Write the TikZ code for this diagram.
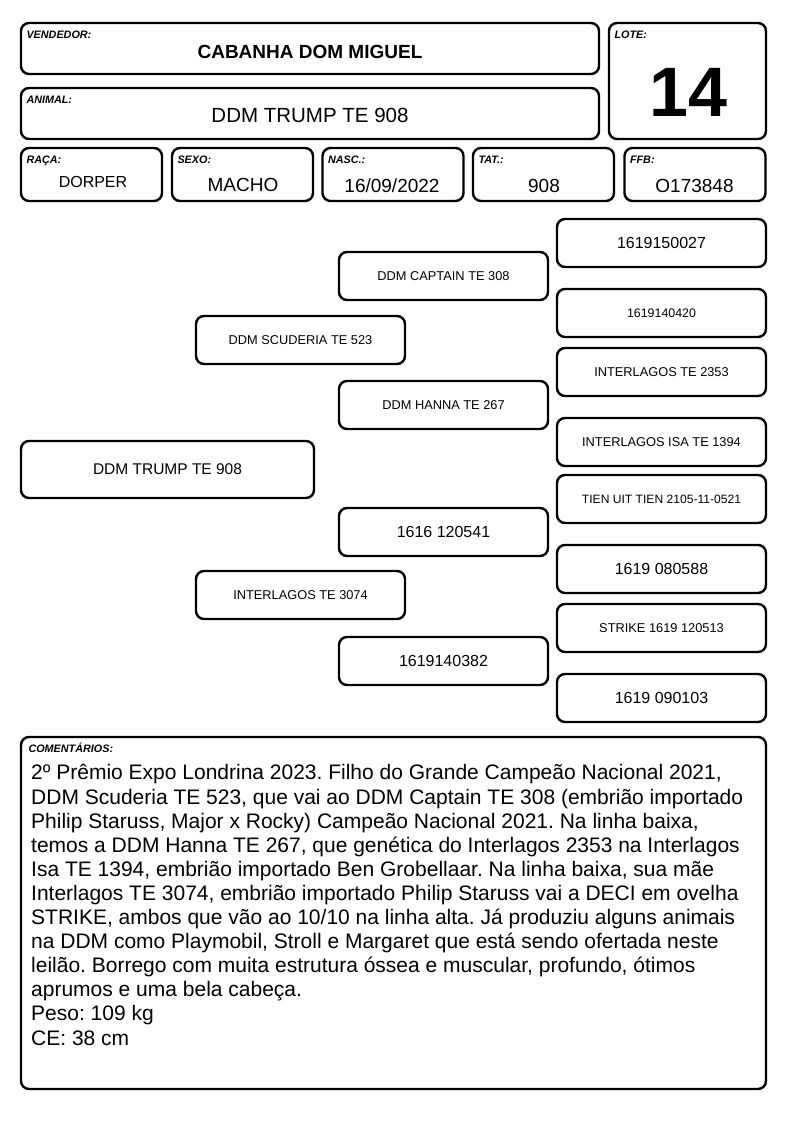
\documentclass[tikz,border=0pt]{standalone}
\usepackage{fontspec}
\setmainfont{Liberation Sans}
\usepackage{tikz}
\usetikzlibrary{calc}

\newcommand{\fsz}[1]{\fontsize{#1}{#1}\selectfont}
\frenchspacing

\begin{document}
\begin{tikzpicture}[x=1pt,y=-1pt,
    box/.style={draw,line width=2.4pt,rounded corners=8pt,inner sep=0pt},
    tag/.style={anchor=north west,inner sep=0pt,font=\fsz{10.8}\bfseries\itshape,text height=7.7pt,xshift=6.5pt,yshift=-8.5pt},
    field/.style={box,minimum width=141pt,minimum height=53pt},
    val/.style={anchor=base,inner sep=0pt,font=\fsz{19}},
    ped/.style={box,minimum width=209pt,minimum height=48pt,font=\fsz{12.8}},
    num/.style={ped,font=\fsz{16}}]
  \useasboundingbox (0,0) rectangle (794,1123);

  % header
  \node[box,minimum width=578pt,minimum height=51pt] (vend) at (310,48.5) {};
  \node[tag] (vendt) at (vend.north west) {VENDEDOR:};
  \node[val,font=\fsz{19}\bfseries] (vendv) at (310,59) {CABANHA DOM MIGUEL};
  \node[box,minimum width=578pt,minimum height=51pt] (anim) at (310,113.5) {};
  \node[tag] (animt) at (anim.north west) {ANIMAL:};
  \node[val,font=\fsz{20.5}] (animv) at (310,123) {DDM TRUMP TE 908};
  \node[box,minimum width=157pt,minimum height=116pt] (lote) at (687.5,81) {};
  \node[tag] (lotet) at (lote.north west) {LOTE:};
  \node[val,font=\fsz{70}\bfseries] (lotev) at (688,117) {14};

  \node[field] (raca) at (91.5,174.5) {};
  \node[tag] (racat) at (raca.north west) {RAÇA:};
  \node[val,font=\fsz{16}] (racav) at (93,188) {DORPER};
  \node[field] (sexo) at (242.5,174.5) {};
  \node[tag] (sexot) at (sexo.north west) {SEXO:};
  \node[val] (sexov) at (243,192) {MACHO};
  \node[field] (nasc) at (393,174.5) {};
  \node[tag] (nasct) at (nasc.north west) {NASC.:};
  \node[val] (nascv) at (392,193) {16/09/2022};
  \node[field] (tat) at (543.5,174.5) {};
  \node[tag] (tatt) at (tat.north west) {TAT.:};
  \node[val] (tatv) at (544,193) {908};
  \node[field] (ffb) at (695,174.5) {};
  \node[tag] (ffbt) at (ffb.north west) {FFB:};
  \node[val] (ffbv) at (694.5,193) {O173848};

  % pedigree
  \node[box,minimum width=293pt,minimum height=57pt,font=\fsz{15.5}] (animal) at (167.5,469.5) {DDM TRUMP TE 908};

  \node[ped] (pai) at (300.5,340) {DDM SCUDERIA TE 523};
  \node[ped] (mae) at (300.5,595) {INTERLAGOS TE 3074};

  \node[ped] (avo1) at (443.5,276) {DDM CAPTAIN TE 308};
  \node[ped] (avo2) at (443.5,405) {DDM HANNA TE 267};
  \node[num] (avo3) at (443.5,532) {1616 120541};
  \node[num] (avo4) at (443.5,661) {1619140382};

  \node[num] (bis1) at (661.5,243) {1619150027};
  \node[ped,font=\fsz{12.4}] (bis2) at (661.5,313) {1619140420};
  \node[ped] (bis3) at (661.5,372) {INTERLAGOS TE 2353};
  \node[ped] (bis4) at (661.5,442) {INTERLAGOS ISA TE 1394};
  \node[ped,font=\fsz{12.1}] (bis5) at (661.5,499) {TIEN UIT TIEN 2105-11-0521};
  \node[num] (bis6) at (661.5,569) {1619 080588};
  \node[ped] (bis7) at (661.5,628) {STRIKE 1619 120513};
  \node[num] (bis8) at (661.5,698) {1619 090103};

  % comentarios
  \node[box,minimum width=745pt,minimum height=352pt] (com) at (393.5,913) {};
  \node[tag,xshift=2pt] (comt) at (com.north west) {COMENTÁRIOS:};
  \node[anchor=base west,inner sep=0pt,align=left,font=\fontsize{21}{24.1}\selectfont] (comv) at (31,1045) {%
    2º Prêmio Expo Londrina 2023. Filho do Grande Campeão Nacional 2021,\\
    DDM Scuderia TE 523, que vai ao DDM Captain TE 308 (embrião importado\\
    Philip Staruss, Major x Rocky) Campeão Nacional 2021. Na linha baixa,\\
    temos a DDM Hanna TE 267, que genética do Interlagos 2353 na Interlagos\\
    Isa TE 1394, embrião importado Ben Grobellaar. Na linha baixa, sua mãe\\
    Interlagos TE 3074, embrião importado Philip Staruss vai a DECI em ovelha\\
    STRIKE, ambos que vão ao 10/10 na linha alta. Já produziu alguns animais\\
    na DDM como Playmobil, Stroll e Margaret que está sendo ofertada neste\\
    leilão. Borrego com muita estrutura óssea e muscular, profundo, ótimos\\
    aprumos e uma bela cabeça.\\
    Peso: 109 kg\\
    CE: 38 cm};
\end{tikzpicture}
\end{document}
